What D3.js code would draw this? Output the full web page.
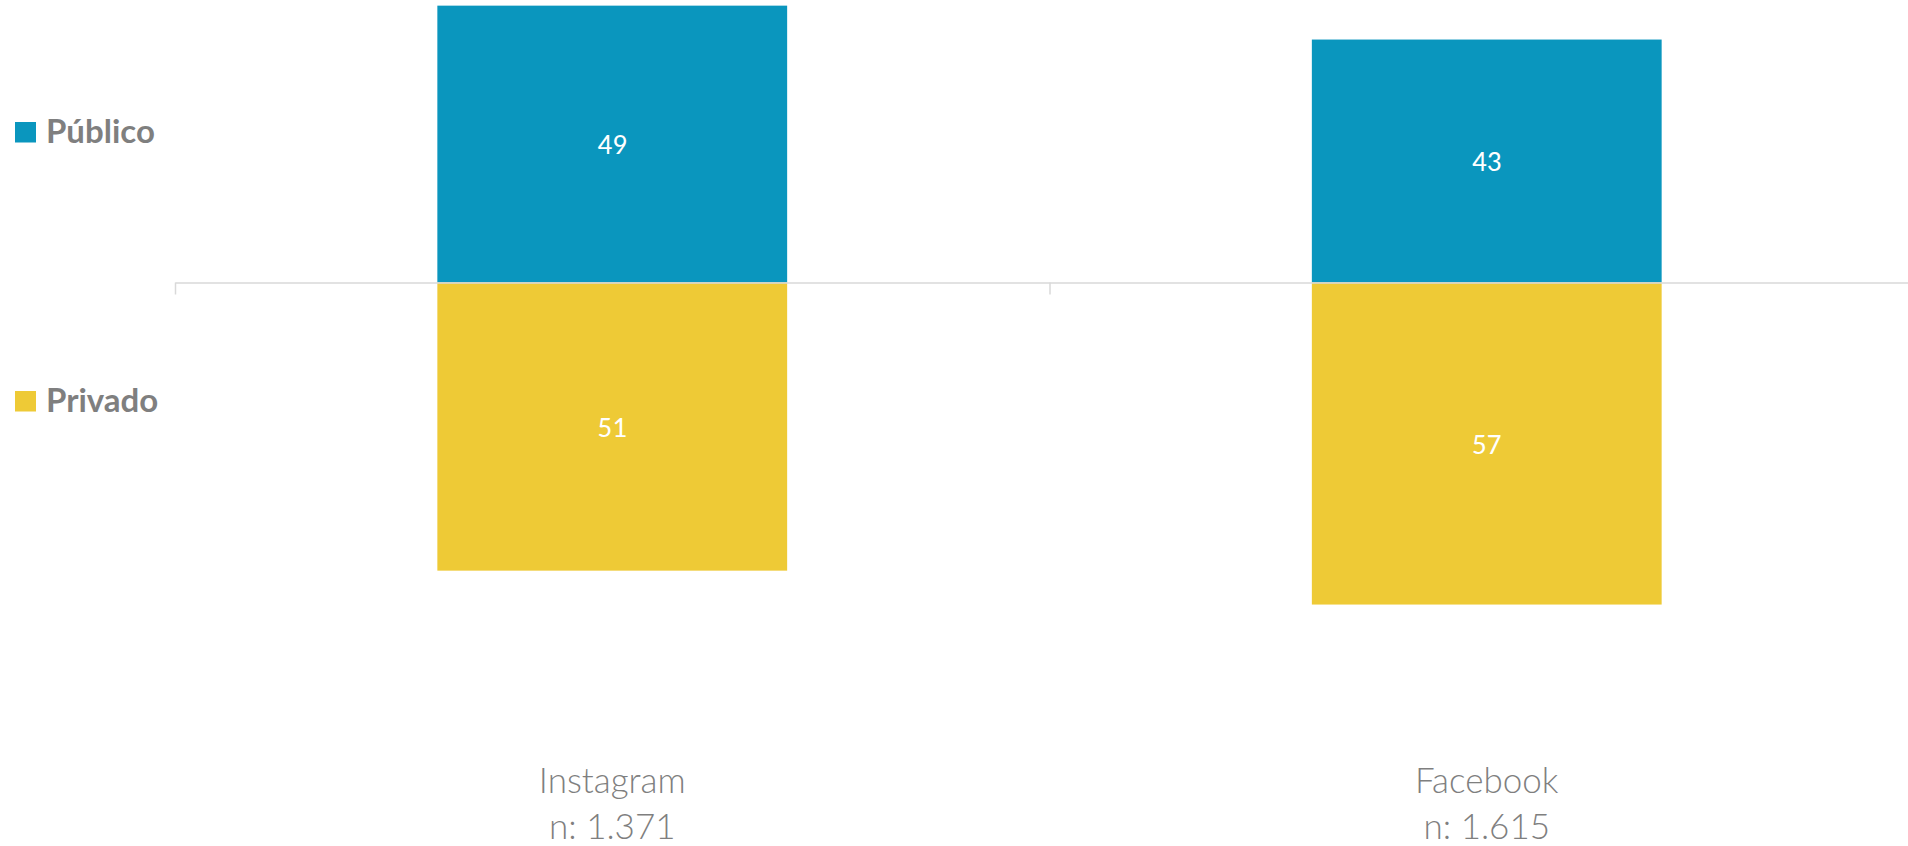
<!DOCTYPE html>
<html>
<head>
<meta charset="utf-8">
<script src="https://cdn.jsdelivr.net/npm/d3@7"></script>
<style>
  html, body { margin: 0; padding: 0; background: #ffffff; }
  svg { display: block; }
</style>
</head>
<body>
<div id="chart"></div>
<script>
const width = 1908
const height = 846

// DATA
const plataformas = ["Instagram", "Facebook"]
const muestras = ["n: 1.371", "n: 1.615"]
const series = ["Público", "Privado"]
const publico = [49, 43]
const privado = [51, 57]

const colores = d3.scaleOrdinal().domain(series).range(["#0A96BE", "#EECA36"])

const svg = d3
  .select("#chart")
  .append("svg")
  .attr("width", width)
  .attr("height", height)

// SCALES
const xScale = d3
  .scaleBand()
  .domain(plataformas)
  .range([175, 1924])
  .paddingInner(0.6)
  .paddingOuter(0.3)

// zero line at y ~282, public goes up, private goes down
const yScale = d3.scaleLinear().domain([-60, 50]).range([621.5, 0])

const filas = plataformas.map((p, i) => ({
  plataforma: p,
  publico: publico[i],
  privado: privado[i]
}))

// BARS
svg
  .selectAll(".bar-publico")
  .data(filas)
  .join("rect")
  .attr("class", "bar-publico")
  .attr("x", (d) => xScale(d.plataforma))
  .attr("width", xScale.bandwidth())
  .attr("y", (d) => yScale(d.publico))
  .attr("height", (d) => yScale(0) - yScale(d.publico))
  .attr("fill", colores("Público"))

svg
  .selectAll(".bar-privado")
  .data(filas)
  .join("rect")
  .attr("class", "bar-privado")
  .attr("x", (d) => xScale(d.plataforma))
  .attr("width", xScale.bandwidth())
  .attr("y", yScale(0))
  .attr("height", (d) => yScale(-d.privado) - yScale(0))
  .attr("fill", colores("Privado"))

// AXIS (category boundaries)
const xBordes = d3
  .scaleLinear()
  .domain([0, plataformas.length])
  .range(xScale.range())

const xAxis = svg
  .append("g")
  .attr("transform", `translate(0, ${yScale(0)})`)
  .call(
    d3
      .axisBottom(xBordes)
      .tickValues(d3.range(plataformas.length + 1))
      .tickSizeInner(12)
      .tickSizeOuter(0)
      .tickFormat("")
  )
xAxis.selectAll("path, line").attr("stroke", "#D9D9D9").attr("stroke-width", 1.5)

// DATA LABELS
const etiquetas = svg
  .append("g")
  .style("font-family", "Carlito, Lato, 'Open Sans', sans-serif")
  .style("font-size", "29px")
  .attr("fill", "#ffffff")
  .attr("text-anchor", "middle")

etiquetas
  .selectAll(".lbl-publico")
  .data(filas)
  .join("text")
  .attr("x", (d) => xScale(d.plataforma) + xScale.bandwidth() / 2)
  .attr("y", (d) => (yScale(d.publico) + yScale(0)) / 2)
  .attr("dy", "0.35em")
  .text((d) => d.publico)

etiquetas
  .selectAll(".lbl-privado")
  .data(filas)
  .join("text")
  .attr("x", (d) => xScale(d.plataforma) + xScale.bandwidth() / 2)
  .attr("y", (d) => (yScale(-d.privado) + yScale(0)) / 2)
  .attr("dy", "0.35em")
  .text((d) => d.privado)

// CATEGORY LABELS
const categorias = svg
  .append("g")
  .style("font-family", "Lato, 'Open Sans', sans-serif")
  .style("font-weight", 300)
  .style("font-size", "35px")
  .attr("fill", "#7F7F7F")
  .attr("text-anchor", "middle")

plataformas.forEach((p, i) => {
  const cx = xScale(p) + xScale.bandwidth() / 2
  categorias.append("text").attr("x", cx).attr("y", 793).text(p)
  categorias.append("text").attr("x", cx).attr("y", 839).text(muestras[i])
})

// LEGEND
const leyenda = svg
  .append("g")
  .style("font-family", "Lato, 'Open Sans', sans-serif")
  .style("font-weight", 700)
  .style("font-size", "33px")

const leyendaY = [142.5, 411.5]
series.forEach((s, i) => {
  leyenda
    .append("rect")
    .attr("x", 15)
    .attr("y", leyendaY[i] - 20.5)
    .attr("width", 21)
    .attr("height", 20.5)
    .attr("fill", colores(s))
  leyenda
    .append("text")
    .attr("x", 46)
    .attr("y", leyendaY[i])
    .attr("fill", "#7F7F7F")
    .text(s)
})
</script>
</body>
</html>
